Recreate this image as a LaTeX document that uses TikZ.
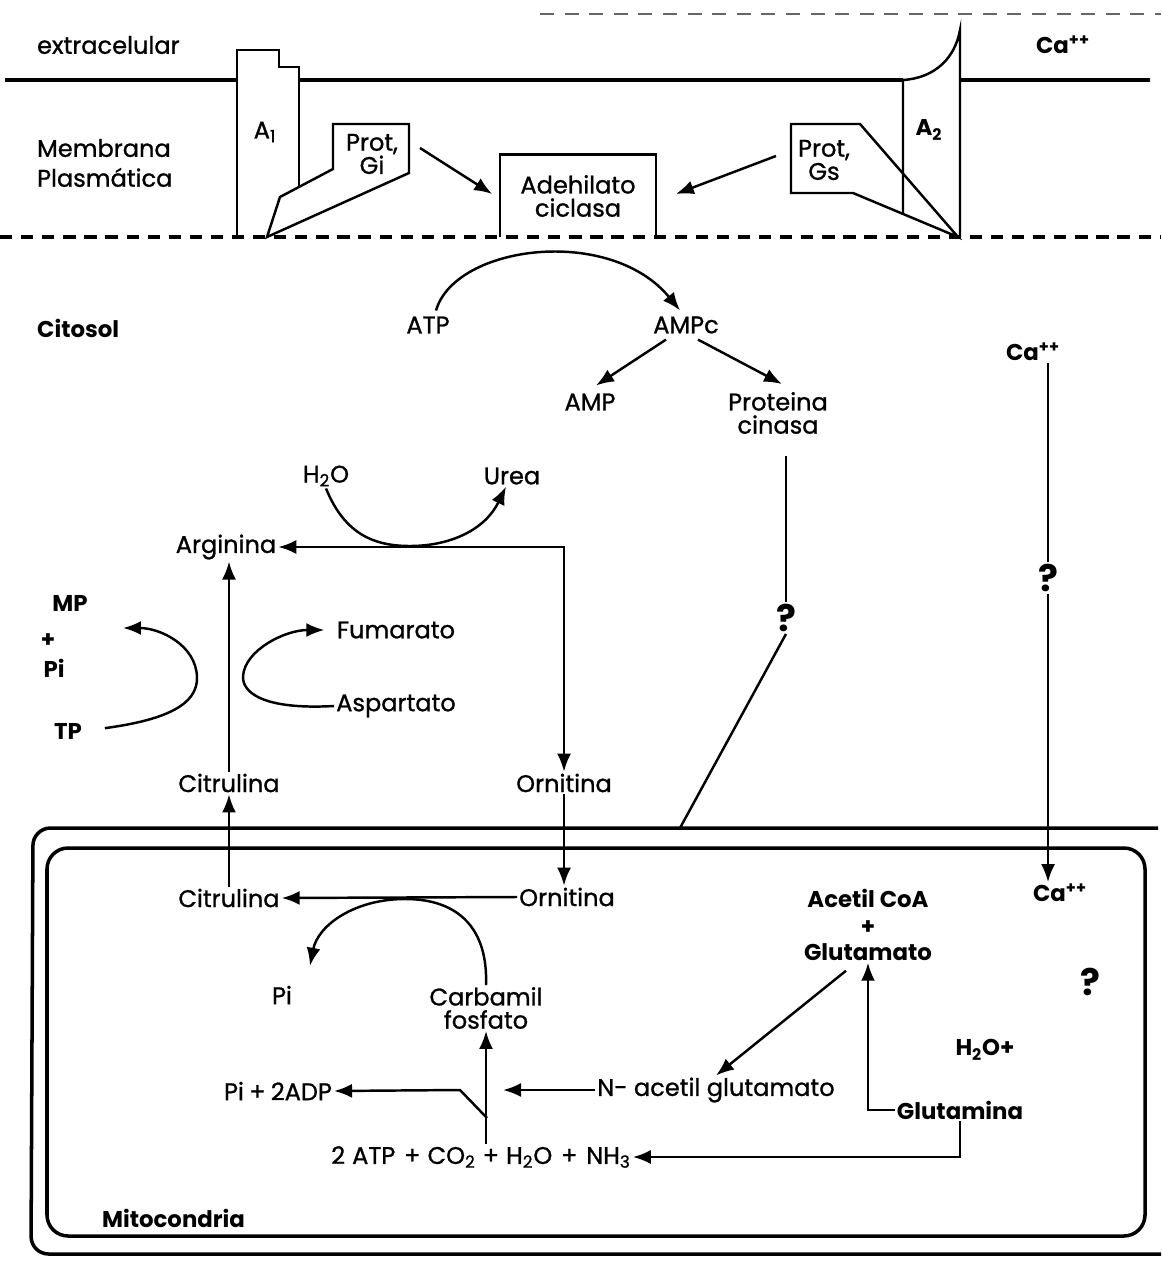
\documentclass[tikz,border=0pt]{standalone}
\usepackage{fontspec}
\setmainfont{Poppins}
\newfontfamily\medfont{Poppins}[FakeBold=1]
\usetikzlibrary{arrows.meta, calc}

\begin{document}
\begin{tikzpicture}[x=0.02cm, y=-0.02cm,
  lbl/.style={font=\fontsize{13.7}{13.2}\selectfont\medfont, inner sep=1pt, align=center},
  blbl/.style={font=\fontsize{13}{15}\selectfont\bfseries, inner sep=1pt, align=center},
  qm/.style={font=\fontsize{21}{21}\selectfont\bfseries, inner sep=1pt},
  arr/.style={-{Latex[length=3.6mm, width=2.8mm]}, line width=1.4pt},
  conn/.style={line width=1.4pt},
  memb/.style={line width=2pt}]
\useasboundingbox (0,0) rectangle (1161,1270);

\draw[line width=0.7pt, dash pattern=on 8pt off 6pt, black!60] (540,14) -- (1161,14);
\draw[memb] (5,80) -- (237,80) (299,80) -- (903,80) (960,80) -- (1150,80);
\draw[memb, dash pattern=on 7pt off 5pt] (0,237) -- (1161,237);

\node[lbl, anchor=west] (extra) at (35,45) {extracelular};
\node[lbl, anchor=west, align=left, font=\fontsize{13.7}{17}\selectfont\medfont] (memb) at (35,163) {Membrana\\Plasmática};
\node[blbl, anchor=west] (citosol) at (35,328) {Citosol};

\draw[conn] (237,237) -- (237,50) -- (279,50) -- (279,67) -- (299,67) -- (299,187);
\node[lbl] (a1) at (265,132) {A\textsubscript{1}};
\draw[conn] (267,237) -- (280,197) -- (333,169) -- (333,124) -- (409,124) -- (409,173) -- cycle;
\node[lbl] (pgi) at (372,154) {Prot,\\Gi};

\node[lbl, minimum width=3.1cm, minimum height=1.64cm] (adc) at (578,196) {Adehilato\\ciclasa};
\draw[conn] (adc.south west) -- (adc.north west) -- (adc.north east) -- (adc.south east);

\draw[conn] (903,215) -- (903,80) .. controls (935,78) and (955,58) .. (960,30) -- (960,237);
\draw[conn] (958,237) -- (860,124) -- (791,124) -- (791,193) -- (853,193) -- cycle;
\node[lbl] (pgs) at (824,160) {Prot,\\Gs};
\node[blbl] (a2) at (929,130) {A\textsubscript{2}};
\node[blbl] (caext) at (1063,45) {Ca\textsuperscript{++}};

\coordinate (gi0) at (420,148);
\coordinate (gs0) at (776,156);
\draw[arr] (gi0) -- ($(adc.west)+(-8,-2)$);
\draw[arr] (gs0) -- ($(adc.east)+(20,-2)$);

\node[lbl] (atp) at (428,325) {ATP};
\node[lbl] (ampc) at (686,325) {AMPc};
\node[lbl] (amp) at (590,402) {AMP};
\node[lbl] (pk) at (778,413) {Proteina\\cinasa};
\draw[arr] ($(atp.north)+(8,-4)$) .. controls (455,245) and (610,225) .. ($(ampc.north)+(-6,-4)$);
\draw[arr] ($(ampc.south)+(-20,4)$) -- ($(amp.north)+(6,-6)$);
\draw[arr] ($(ampc.south)+(12,4)$) -- ($(pk.north)+(4,-6)$);

\node[qm] (q1) at (786,618) {?};
\coordinate (mA) at (680,828);
\draw[conn] (pk.south -| q1.north) ++(0,20) -- (q1.north);
\draw[conn] (q1.south) -- (mA);

\node[blbl] (ca1) at (1033,352) {Ca\textsuperscript{++}};
\node[qm] (q2) at (1048,578) {?};
\node[blbl] (ca2) at (1060,893) {Ca\textsuperscript{++}};
\draw[conn] (ca1.south -| q2.north) -- (q2.north);
\draw[arr] (q2.south) -- (q2.south |- ca2.north);

\node[lbl] (h2o) at (326,476) {H\textsubscript{2}O};
\node[lbl] (urea) at (512,476) {Urea};
\node[lbl] (arg) at (226,547) {Arginina};
\node[lbl] (fum) at (396,630) {Fumarato};
\node[lbl] (asp) at (396,706) {Aspartato};
\node[lbl] (cit1) at (229,783) {Citrulina};
\node[lbl] (orn1) at (564,783) {Ornitina};
\node[blbl] (mp) at (70,603) {MP};
\node[blbl] (plus) at (48,641) {+};
\node[blbl] (pi1) at (54,668) {Pi};
\node[blbl] (tp) at (68,731) {TP};
\coordinate (mpin) at (123,628);

\draw[arr] (h2o.south) .. controls (345,535) and (375,546) .. (410,546) .. controls (450,546) and (485,530) .. ($(urea.south)+(-6,0)$);
\draw[{Latex[length=3.6mm, width=2.8mm]}-{Latex[length=3.6mm, width=2.8mm]}, line width=1.4pt] (arg.east) -| (orn1.north);
\draw[arr] (cit1.north) -- (cit1.north |- arg.south);
\draw[arr, shorten >=6pt] (asp.west) .. controls (262,710) and (242,692) .. (243,676) .. controls (245,650) and (285,630) .. (fum.west);
\draw[arr, shorten <=12pt] (tp.east) .. controls (165,720) and (198,705) .. (197,677) .. controls (196,645) and (160,628) .. (mpin);

\draw[memb, rounded corners=10] (1158,828) -- (33,828) -- (31,1254) -- (1161,1254);
\draw[memb, rounded corners=12] (47,848) rectangle (1145,1236);

\node[lbl] (cit2) at (229,898) {Citrulina};
\node[lbl] (orn2) at (567,897) {Ornitina};
\node[lbl] (pi2) at (282,995) {Pi};
\node[lbl] (cp) at (486,1008) {Carbamil\\fosfato};
\node[blbl] (acg) at (868,925) {Acetil CoA\\+\\Glutamato};
\node[qm] (q3) at (1090,982) {?};
\node[blbl] (h2op) at (985,1050) {H\textsubscript{2}O+};
\node[lbl] (nag) at (716,1090) {N- acetil glutamato};
\node[lbl] (pad) at (278,1091) {Pi\hspace{3pt}+\hspace{3pt}2ADP};
\node[blbl] (glm) at (960,1110) {Glutamina};
\node[lbl] (atp2) at (481,1157) {2\hspace{4pt}ATP\hspace{5pt}+\hspace{4pt}CO\textsubscript{2}\hspace{4pt}+\hspace{4pt}H\textsubscript{2}O\hspace{5pt}+\hspace{5pt}NH\textsubscript{3}};
\node[blbl, anchor=west] (mito) at (100,1218) {Mitocondria};
\coordinate (nagend) at (503,1090);
\coordinate (brk) at (487,1118);

\draw[arr] (orn1.south) -- (orn1.south |- orn2.north);
\draw[arr] (cit2.north) -- (cit1.south);
\draw[arr] (orn2.west) -- (cit2.east);
\draw[arr] (cp.north) .. controls (488,930) and (460,899) .. (405,899) .. controls (355,899) and (318,925) .. ($(pi2.north)+(28,-18)$);
\draw[arr] (cp.south |- atp2.north) -- (cp.south);
\draw[arr] (brk) -- ++(-27,-28) -- (pad.east);
\draw[arr] (nag.west) -- (nagend);
\draw[arr] ($(acg.south)+(-22,8)$) -- (nag.north);
\draw[arr] (glm.west) -| (acg.south);
\draw[arr] (glm.south) |- (atp2.east);
\end{tikzpicture}
\end{document}
